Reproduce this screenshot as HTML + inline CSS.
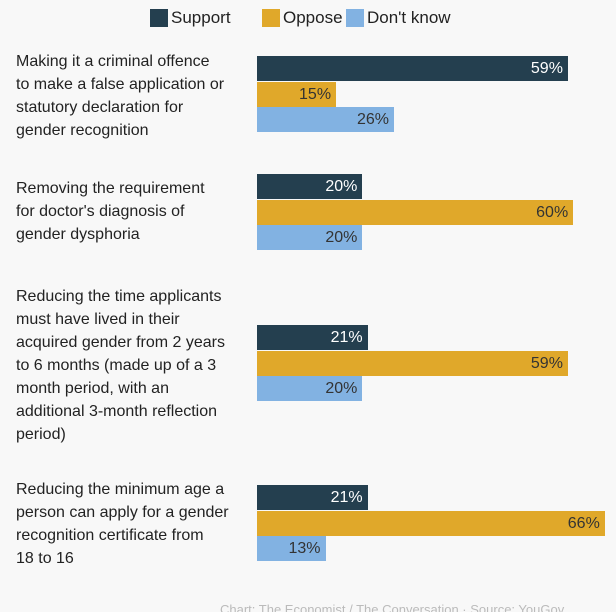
<!DOCTYPE html>
<html><head><meta charset="utf-8"><style>
body{margin:0;background:#f8f8f8;font-family:"Liberation Sans",sans-serif;}
#c{position:relative;width:616px;height:612px;overflow:hidden;background:#f8f8f8;}
.lab{position:absolute;left:16px;font-size:16px;line-height:23px;color:#222;}
.bar{position:absolute;left:257px;height:25px;}
.val{position:absolute;font-size:16px;line-height:25px;text-align:right;}
.leg{position:absolute;top:8px;font-size:17px;color:#222;display:flex;align-items:center;}
.sw{width:18px;height:18px;margin-right:3px;}
</style></head><body>
<div id="c">
<div class="leg" style="left:150px"><div class="sw" style="background:#243f4f"></div>Support</div>
<div class="leg" style="left:262px"><div class="sw" style="background:#e0a82a"></div>Oppose</div>
<div class="leg" style="left:346px"><div class="sw" style="background:#82b2e2"></div>Don't know</div>
<div style="position:absolute;left:220px;top:602px;font-size:13px;color:#bbb;white-space:nowrap">Chart: The Economist / The Conversation · Source: YouGov</div>
</div>
<script>
const categories=["Making it a criminal offence<br>to make a false application or<br>statutory declaration for<br>gender recognition","Removing the requirement<br>for doctor's diagnosis of<br>gender dysphoria","Reducing the time applicants<br>must have lived in their<br>acquired gender from 2 years<br>to 6 months (made up of a 3<br>month period, with an<br>additional 3-month reflection<br>period)","Reducing the minimum age a<br>person can apply for a gender<br>recognition certificate from<br>18 to 16"];
const support=[59,20,21,21];
const oppose=[15,60,59,66];
const dontKnow=[26,20,20,13];
const c=document.getElementById('c');
const groupTop=[56,174,325,485];
const labelTop=[50,177,285,478];
const colors=["#243f4f","#e0a82a","#82b2e2"];
const txt=["#fff","#333","#333"];
const names=["support","oppose","dont-know"];
function x(v){return v*5.27;}
categories.forEach((cat,i)=>{
  const l=document.createElement('div');l.className='lab';l.style.top=labelTop[i]+'px';l.innerHTML=cat;
  
  
  c.appendChild(l);
  [support,oppose,dontKnow].forEach((s,j)=>{
    const b=document.createElement('div');b.className='bar';
    b.style.top=(groupTop[i]+j*25.5)+'px';b.style.width=x(s[i])+'px';b.style.background=colors[j];
    
    
    c.appendChild(b);
    const v=document.createElement('div');v.className='val';
    v.style.top=(groupTop[i]+j*25.5)+'px';v.style.left=(257+x(s[i])-60)+'px';v.style.width='55px';v.style.color=txt[j];
    v.textContent=s[i]+'%';
    
    
    c.appendChild(v);
  });
});
</script>
</body></html>
